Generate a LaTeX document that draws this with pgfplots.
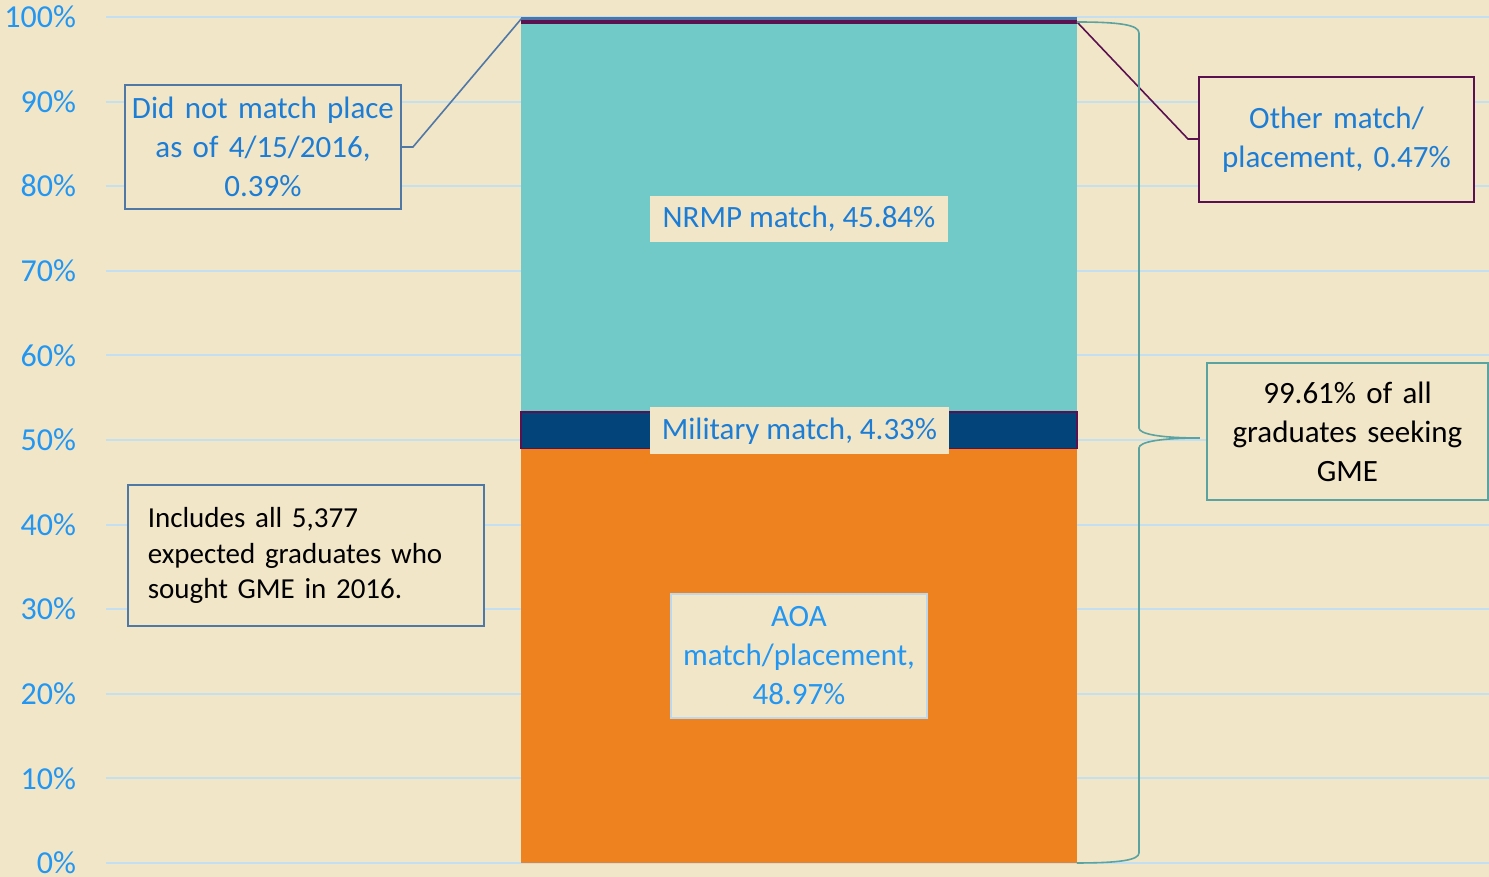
\documentclass[border=0pt]{standalone}
\usepackage{fontspec}
\setmainfont{Carlito}
\usepackage{pgfplots}
\pgfplotsset{compat=1.18}
\definecolor{bg}{HTML}{F2E6C8}
\definecolor{gridc}{HTML}{C4E0F0}
\definecolor{aoa}{HTML}{EE821E}
\definecolor{mil}{HTML}{03457B}
\definecolor{nrmp}{HTML}{71C9C8}
\definecolor{other}{HTML}{5B1050}
\definecolor{dnm}{HTML}{4A76A8}
\definecolor{tickblue}{HTML}{2196F3}
\definecolor{txtblue}{HTML}{1C7DD6}
\definecolor{steel}{HTML}{5078A6}
\definecolor{tealb}{HTML}{5BA3A0}
\definecolor{aoabox}{HTML}{BBD8EE}
\begin{document}
\begin{tikzpicture}
\fill[bg] (-53bp,-7bp) rectangle (691.5bp,431.5bp);
\begin{axis}[
  at={(0,0)}, anchor=south west,
  scale only axis, width=691.5bp, height=423bp,
  xmin=106, xmax=1489, ymin=0, ymax=100,
  axis line style={draw=none}, tick style={draw=none},
  xtick=\empty,
  ytick={0,10,...,100},
  yticklabels={0\%,10\%,20\%,30\%,40\%,50\%,60\%,70\%,80\%,90\%,100\%},
  yticklabel style={font=\fontsize{16bp}{18bp}\selectfont, text=tickblue, anchor=east, xshift=-11.5bp},
  ymajorgrids, grid style={color=gridc, line width=1bp},
  ybar stacked, bar width=278bp,
]
\addplot[fill=aoa, draw=none] coordinates {(799,48.97)};
\addplot[fill=mil, draw=other, line width=0.6bp] coordinates {(799,4.33)};
\addplot[fill=nrmp, draw=none] coordinates {(799,45.84)};
\addplot[fill=other, draw=none] coordinates {(799,0.47)};
\addplot[fill=dnm, draw=none] coordinates {(799,0.39)};
\end{axis}
\begin{scope}[x=0.5bp,y=-0.5bp,shift={(-53bp,431.5bp)}]
 % leader lines
 \draw[steel, line width=0.8bp] (401,147) -- (413,147) -- (522,18);
 \draw[other, line width=0.8bp] (1077,22) -- (1188,139) -- (1199,139);
 % brace
 \draw[tealb, line width=0.8bp] (1077,22) .. controls (1120,22) and (1139,25) .. (1139,33)
   -- (1139,428) .. controls (1139,434) and (1160,438) .. (1200,438)
   .. controls (1160,438) and (1139,442) .. (1139,448)
   -- (1139,853) .. controls (1139,860) and (1120,863) .. (1077,863);
 % boxes
 \node[draw=steel, line width=0.8bp, fill=bg, minimum width=138bp, minimum height=62bp, text width=138bp, align=center, inner sep=0pt, text=txtblue, font=\fontsize{15.5bp}{19.5bp}\selectfont] at (263,147) {Did not match place\\as of 4/15/2016,\\0.39\%};
 \node[draw=other, line width=0.8bp, fill=bg, minimum width=137.5bp, minimum height=62.5bp, text width=137.5bp, align=center, inner sep=0pt, text=txtblue, font=\fontsize{15.5bp}{19.5bp}\selectfont] at (1336.5,139.5) {Other match/\\placement, 0.47\%};
 \node[draw=tealb, line width=0.8bp, fill=bg, minimum width=140.5bp, minimum height=68.5bp, text width=140.5bp, align=center, inner sep=0pt, text=black, font=\fontsize{15.5bp}{19.5bp}\selectfont] at (1347.5,431.5) {99.61\% of all\\graduates seeking\\GME};
 \node[draw=steel, line width=0.8bp, fill=bg, minimum width=178bp, minimum height=70.5bp, text width=178bp, align=left, inner sep=0pt, text=black, font=\fontsize{14.5bp}{17.75bp}\selectfont, anchor=west] at (127,555.5) {\hspace*{10bp}\parbox{165bp}{Includes all 5,377\\expected graduates who\\sought GME in 2016.}};
 \node[fill=bg, minimum width=149bp, minimum height=23bp, inner sep=0pt, text=txtblue, font=\fontsize{15.5bp}{19.5bp}\selectfont] at (799,219) {NRMP match, 45.84\%};
 \node[fill=bg, minimum width=149.5bp, minimum height=23.5bp, inner sep=0pt, text=txtblue, font=\fontsize{15.5bp}{19.5bp}\selectfont] at (799.5,431) {Military match, 4.33\%};
 \node[draw=aoabox, line width=0.8bp, fill=bg, minimum width=128bp, minimum height=62bp, text width=128bp, align=center, inner sep=0pt, text=tickblue, font=\fontsize{15.5bp}{19.5bp}\selectfont] at (799,656) {AOA\\match/placement,\\48.97\%};
\end{scope}
\pgfresetboundingbox
\path (-53bp,-7bp) rectangle (691.5bp,431.5bp);
\end{tikzpicture}
\end{document}
